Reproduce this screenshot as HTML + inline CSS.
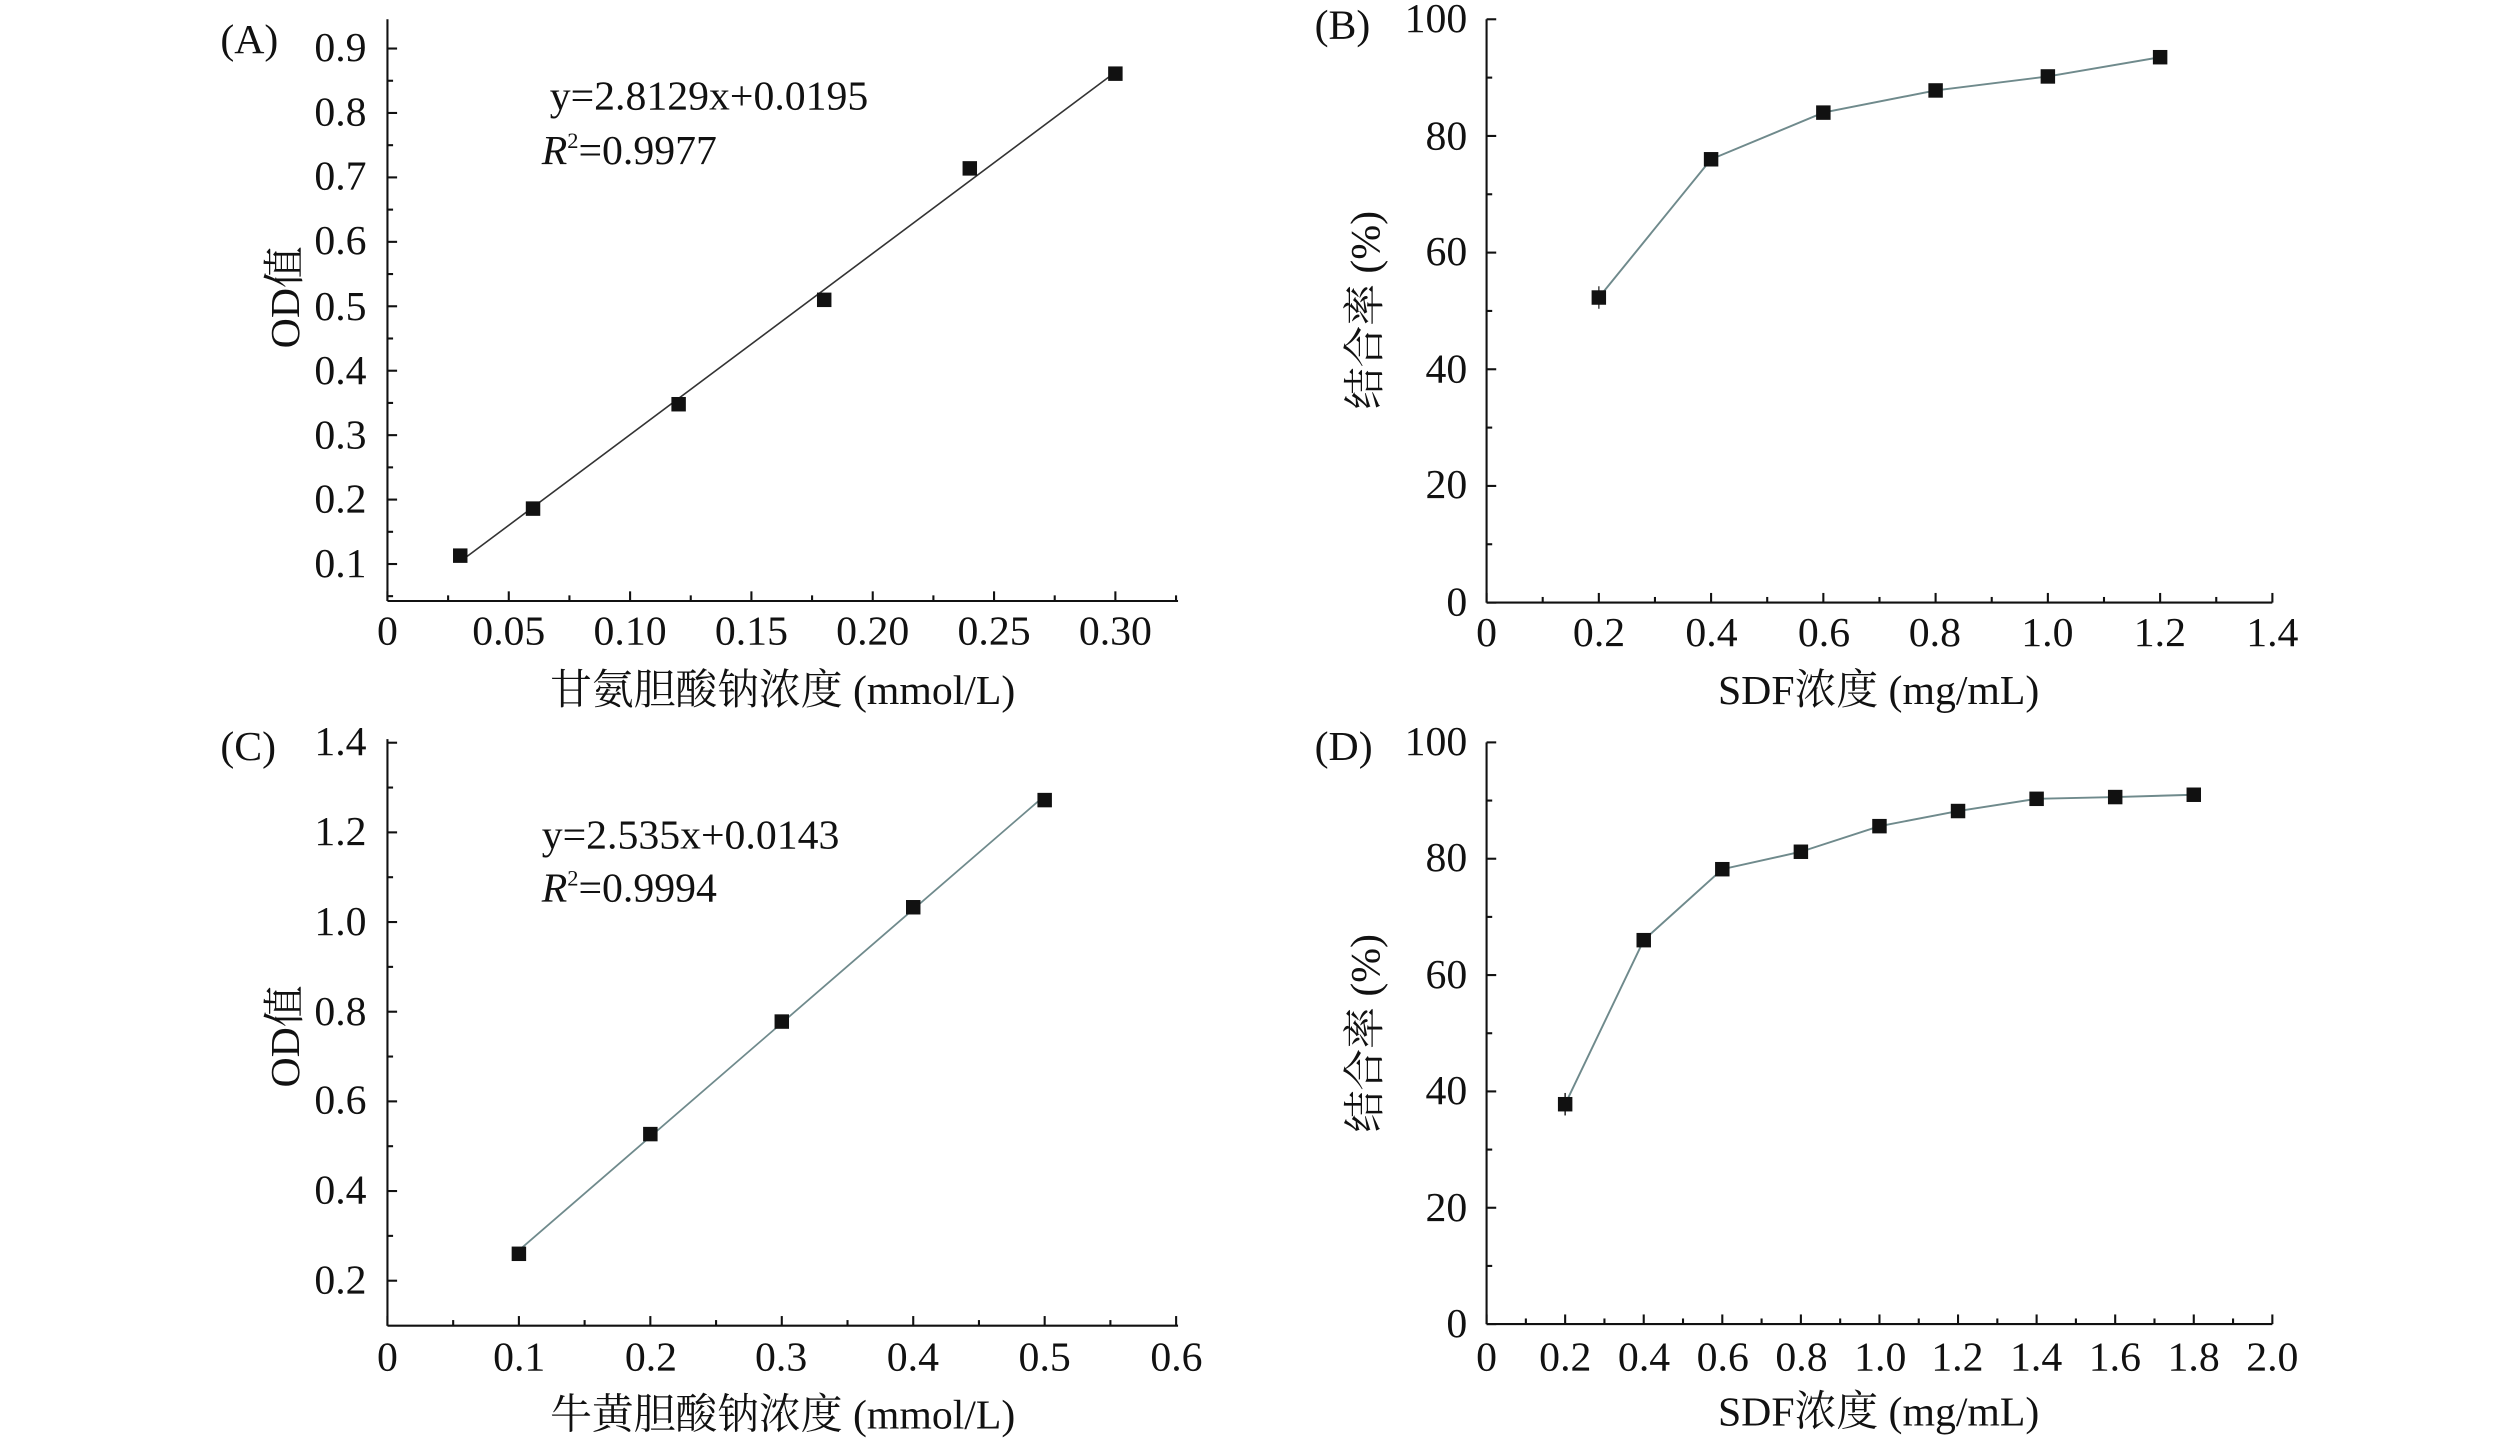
<!DOCTYPE html>
<html><head><meta charset="utf-8"><style>
html,body{margin:0;padding:0;background:#fff;}
svg{display:block;}
text{font-family:"Liberation Serif","Noto Serif CJK SC","Noto Sans CJK SC",serif;font-size:26px;fill:#111;}
.r{text-anchor:end}.m{text-anchor:middle}
</style></head><body>
<svg id="s" width="2520" height="1443" viewBox="0 0 1568 898" xmlns="http://www.w3.org/2000/svg">
<g id="g" stroke="#111" stroke-width="1.3" fill="none"></g>
<!-- Panel A -->
<text x="137" y="33">(A)</text>
<text class="r" x="228" y="359">0.1</text><text class="r" x="228" y="319">0.2</text><text class="r" x="228" y="279">0.3</text><text class="r" x="228" y="239">0.4</text><text class="r" x="228" y="199">0.5</text><text class="r" x="228" y="158">0.6</text><text class="r" x="228" y="118">0.7</text><text class="r" x="228" y="78">0.8</text><text class="r" x="228" y="38">0.9</text>
<text class="m" x="241" y="401">0</text><text class="m" x="316.5" y="401">0.05</text><text class="m" x="392" y="401">0.10</text><text class="m" x="467.5" y="401">0.15</text><text class="m" x="543" y="401">0.20</text><text class="m" x="618.5" y="401">0.25</text><text class="m" x="694" y="401">0.30</text>
<text class="m" x="487" y="438">甘氨胆酸钠浓度 (mmol/L)</text>
<text class="m" transform="translate(186,185) rotate(-90)">OD值</text>
<text x="342" y="68">y=2.8129x+0.0195</text>
<text x="337" y="102"><tspan font-style="italic">R</tspan><tspan font-size="14" dy="-10">2</tspan><tspan dy="10">=0.9977</tspan></text>
<!-- Panel B -->
<text x="818" y="24">(B)</text>
<text class="r" x="913" y="383">0</text><text class="r" x="913" y="310">20</text><text class="r" x="913" y="238">40</text><text class="r" x="913" y="165">60</text><text class="r" x="913" y="93">80</text><text class="r" x="913" y="20">100</text>
<text class="m" x="925" y="402">0</text><text class="m" x="995" y="402">0.2</text><text class="m" x="1065" y="402">0.4</text><text class="m" x="1135" y="402">0.6</text><text class="m" x="1204" y="402">0.8</text><text class="m" x="1274" y="402">1.0</text><text class="m" x="1344" y="402">1.2</text><text class="m" x="1414" y="402">1.4</text>
<text class="m" x="1169" y="438">SDF浓度 (mg/mL)</text>
<text class="m" transform="translate(858,193) rotate(-90)">结合率 (%)</text>
<!-- Panel C -->
<text x="137" y="473">(C)</text>
<text class="r" x="228" y="805">0.2</text><text class="r" x="228" y="749">0.4</text><text class="r" x="228" y="693">0.6</text><text class="r" x="228" y="638">0.8</text><text class="r" x="228" y="582">1.0</text><text class="r" x="228" y="526">1.2</text><text class="r" x="228" y="470">1.4</text>
<text class="m" x="241" y="853">0</text><text class="m" x="323" y="853">0.1</text><text class="m" x="405" y="853">0.2</text><text class="m" x="486" y="853">0.3</text><text class="m" x="568" y="853">0.4</text><text class="m" x="650" y="853">0.5</text><text class="m" x="732" y="853">0.6</text>
<text class="m" x="487" y="889">牛黄胆酸钠浓度 (mmol/L)</text>
<text class="m" transform="translate(186,645) rotate(-90)">OD值</text>
<text x="337" y="528">y=2.535x+0.0143</text>
<text x="337" y="561"><tspan font-style="italic">R</tspan><tspan font-size="14" dy="-10">2</tspan><tspan dy="10">=0.9994</tspan></text>
<!-- Panel D -->
<text x="818" y="473">(D)</text>
<text class="r" x="913" y="832">0</text><text class="r" x="913" y="760">20</text><text class="r" x="913" y="687">40</text><text class="r" x="913" y="615">60</text><text class="r" x="913" y="542">80</text><text class="r" x="913" y="470">100</text>
<text class="m" x="925" y="853">0</text><text class="m" x="974" y="853">0.2</text><text class="m" x="1023" y="853">0.4</text><text class="m" x="1072" y="853">0.6</text><text class="m" x="1121" y="853">0.8</text><text class="m" x="1170" y="853">1.0</text><text class="m" x="1218" y="853">1.2</text><text class="m" x="1267" y="853">1.4</text><text class="m" x="1316" y="853">1.6</text><text class="m" x="1365" y="853">1.8</text><text class="m" x="1414" y="853">2.0</text>
<text class="m" x="1169" y="887">SDF浓度 (mg/mL)</text>
<text class="m" transform="translate(858,643) rotate(-90)">结合率 (%)</text>
</svg>
<script>
var g=document.getElementById('g'),NS="http://www.w3.org/2000/svg";
function el(n,a){var e=document.createElementNS(NS,n);for(var k in a)e.setAttribute(k,a[k]);g.appendChild(e);return e;}
function ln(x1,y1,x2,y2,c,w){el('line',{x1:x1,y1:y1,x2:x2,y2:y2,stroke:c||'#111','stroke-width':w||1.3});}
function axes(ax,ay,top,right,yt,xt){ln(ax,top,ax,ay);ln(ax,ay,right,ay);
 for(var i=0;i<yt.length;i++){var v=yt[i];ln(ax,v[0],ax+(v[1]?6:3.5),v[0]);}
 for(var i=0;i<xt.length;i++){var v=xt[i];ln(v[0],ay,v[0],ay-(v[1]?6:3.5));}}
function sq(x,y){el('rect',{x:x-4.5,y:y-4.5,width:9,height:9,fill:'#111',stroke:'none'});}
// A
var yt=[],xt=[];
for(var k=0;k<=18;k++){yt.push([351-(k*0.05)*401,k%2==0]);}
yt.push([371,false]);
for(var k=0;k<=13;k++){xt.push([241+k*37.75,k%2==0]);}
axes(241,374,12,733,yt.filter(function(v){return v[0]>=12}),xt);
function A(x,y){return [241+x/0.05*75.5,351-(y-0.1)*401];}
var p1=A(0.03,2.8129*0.03+0.0195),p2=A(0.30,2.8129*0.3+0.0195);ln(p1[0],p1[1],p2[0],p2[1],'#333',1);
[[0.03,0.113],[0.06,0.186],[0.12,0.348],[0.18,0.51],[0.24,0.714],[0.30,0.861]].forEach(function(d){var p=A(d[0],d[1]);sq(p[0],p[1]);});
// B
yt=[];for(var k=0;k<=10;k++)yt.push([375-k*36.3,k%2==0]);
xt=[];for(var k=0;k<=14;k++)xt.push([925+k*34.93,k%2==0]);
axes(925,375,12,1414,yt,xt);
function B(x,y){return [925+x/0.2*69.86,375-y*3.63];}
var bd=[[0.2,52.3],[0.4,76],[0.6,84],[0.8,87.8],[1.0,90.2],[1.2,93.5]],pts=bd.map(function(d){return B(d[0],d[1]);});
el('polyline',{points:pts.map(function(p){return p.join(',')}).join(' '),stroke:'#6f8a8c','stroke-width':1.2});
ln(pts[0][0],pts[0][1]-7,pts[0][0],pts[0][1]+7,'#555',1);
pts.forEach(function(p){sq(p[0],p[1]);});
// C
yt=[];for(var k=-1;k<=12;k++)yt.push([797-k*27.9,k%2==0]);
xt=[];for(var k=0;k<=12;k++)xt.push([241+k*40.9,k%2==0]);
axes(241,825,460,733,yt.filter(function(v){return v[0]<=822}),xt);
function C(x,y){return [241+x/0.1*81.8,797-(y-0.2)*279];}
p1=C(0.1,0.2678);p2=C(0.5,1.2818);ln(p1[0],p1[1],p2[0],p2[1],'#6f8a8c',1.1);
[[0.1,0.26],[0.2,0.527],[0.3,0.778],[0.4,1.033],[0.5,1.272]].forEach(function(d){var p=C(d[0],d[1]);sq(p[0],p[1]);});
// D
yt=[];for(var k=0;k<=10;k++)yt.push([824-k*36.2,k%2==0]);
xt=[];for(var k=0;k<=20;k++)xt.push([925+k*24.45,k%2==0]);
axes(925,824,462,1414,yt,xt);
function D(x,y){return [925+x/0.2*48.9,824-y*3.62];}
bd=[[0.2,37.8],[0.4,66],[0.6,78.2],[0.8,81.2],[1.0,85.6],[1.2,88.2],[1.4,90.3],[1.6,90.6],[1.8,91]];pts=bd.map(function(d){return D(d[0],d[1]);});
el('polyline',{points:pts.map(function(p){return p.join(',')}).join(' '),stroke:'#6f8a8c','stroke-width':1.2});
ln(pts[0][0],pts[0][1]-7,pts[0][0],pts[0][1]+7,'#333',1);
pts.forEach(function(p){sq(p[0],p[1]);});
</script>
</body></html>
